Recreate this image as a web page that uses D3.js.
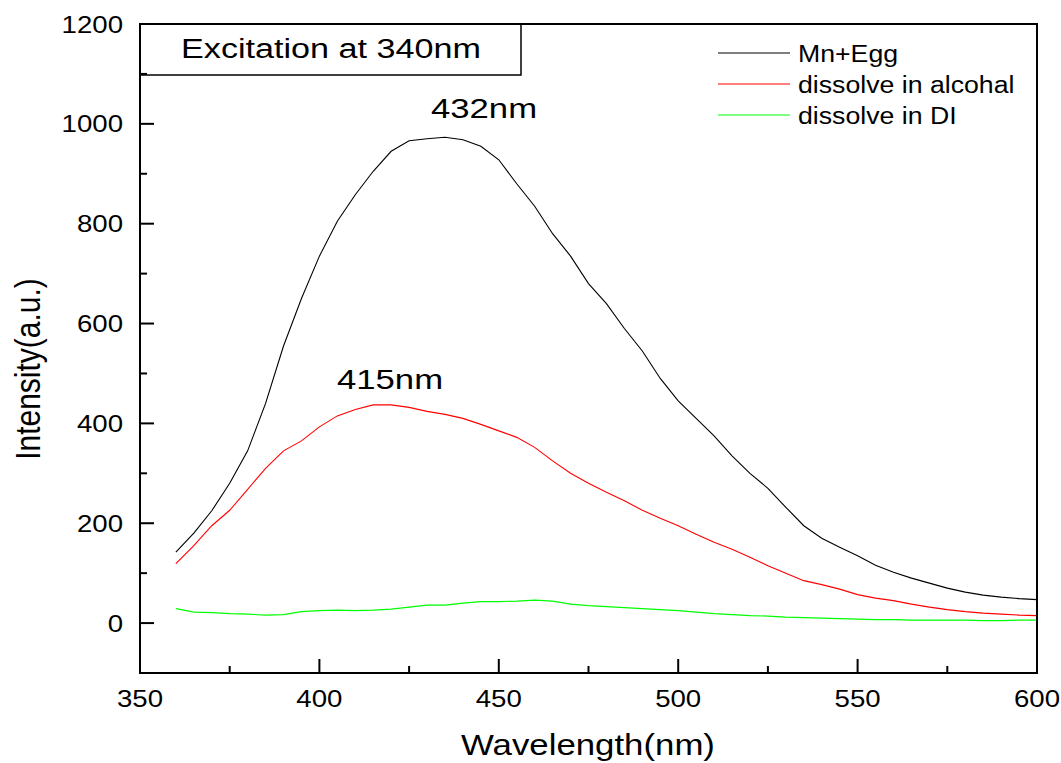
<!DOCTYPE html>
<html>
<head>
<meta charset="utf-8">
<script src="https://cdn.jsdelivr.net/npm/d3@7"></script>
<style>
  body { margin: 0; background: #fff; }
  text { font-family: "Liberation Sans", Arial, sans-serif; fill: #000; }
</style>
</head>
<body>
<div id="viz"></div>
<script>
// wavelength (nm) and the three emission spectra
var wavelength = [360,365,370,375,380,385,390,395,400,405,410,415,420,425,430,435,440,445,450,455,
                  460,465,470,475,480,485,490,495,500,505,510,515,520,525,530,535,540,545,550,555,
                  560,565,570,575,580,585,590,595,600];
var mnEgg   = [142,180,225,280,345,440,555,650,735,805,858,905,945,966,970,973,968,955,928,880,
               835,780,735,680,640,590,545,490,445,410,375,335,300,270,232,195,170,152,135,116,
               102,90,80,70,62,56,52,49,47];
var alcohol = [119,155,195,226,268,310,345,365,393,415,428,437,437,432,424,418,410,398,385,372,
               352,325,300,280,262,245,226,210,195,178,162,148,132,115,100,85,77,68,57,50,
               45,38,32,27,23,20,18,16,15];
var diWater = [29,22,21,19,18,16,17,23,25,26,25,26,28,32,36,36,40,43,43,44,
               46,44,38,35,33,31,29,27,25,22,19,17,15,14,12,11,10,9,8,7,
               7,6,6,6,6,5,5,6,6];

var seriesNames  = ['Mn+Egg', 'dissolve in alcohal', 'dissolve in DI'];
var seriesColors = ['#000000', '#ff0000', '#00ff00'];
var seriesValues = [mnEgg, alcohol, diWater];

var xMajor = [350,400,450,500,550,600];
var xMinor = [375,425,475,525,575];
var yMajor = [0,200,400,600,800,1000,1200];
var yMinor = [100,300,500,700,900,1100];

var width = 1061, height = 763;
var plotL = 140, plotR = 1037, plotT = 24, plotB = 673;

var svg = d3.select('#viz').append('svg')
  .attr('width', width)
  .attr('height', height)

svg.append('rect').attr('width', width).attr('height', height).attr('fill', '#fff')

var x = d3.scaleLinear().domain([350, 600]).range([plotL, plotR])
var y = d3.scaleLinear().domain([-100, 1200]).range([plotB, plotT])

// helper: the reference text is a bit wider than plain Arial
function label(g, tx, ty, str, size, sx, anchor){
  return g.append('text')
    .attr('transform', 'translate(' + tx + ',' + ty + ') scale(' + sx + ',1)')
    .attr('text-anchor', anchor || 'middle')
    .style('font-size', size + 'px')
    .text(str)
}

// curves
var line = d3.line()
  .x(function(d, i){ return x(wavelength[i]) })
  .y(function(d){ return y(d) })

seriesValues.forEach(function(vals, k){
  svg.append('path')
    .datum(vals)
    .attr('d', line)
    .attr('fill', 'none')
    .attr('stroke', seriesColors[k])
    .attr('stroke-width', 1.1)
})

// tick marks, pointing into the plot
var ticks = svg.append('g').attr('stroke', '#000').attr('stroke-width', 2)

ticks.selectAll('.xt')
  .data(xMajor.map(function(d){ return {v: d, len: 14} })
    .concat(xMinor.map(function(d){ return {v: d, len: 7} })))
  .enter().append('line')
  .attr('class', 'xt')
  .attr('x1', function(d){ return x(d.v) }).attr('x2', function(d){ return x(d.v) })
  .attr('y1', plotB).attr('y2', function(d){ return plotB - d.len })

ticks.selectAll('.yt')
  .data(yMajor.filter(function(d){ return d < 1200 }).map(function(d){ return {v: d, len: 14} })
    .concat(yMinor.map(function(d){ return {v: d, len: 7} })))
  .enter().append('line')
  .attr('class', 'yt')
  .attr('y1', function(d){ return y(d.v) }).attr('y2', function(d){ return y(d.v) })
  .attr('x1', plotL).attr('x2', function(d){ return plotL + d.len })

// tick labels
svg.selectAll('.xl').data(xMajor).enter().append('text')
  .attr('class', 'xl')
  .attr('transform', function(d){ return 'translate(' + x(d) + ',707) scale(1.15,1)' })
  .attr('text-anchor', 'middle')
  .style('font-size', '24px')
  .text(function(d){ return d })

svg.selectAll('.yl').data(yMajor).enter().append('text')
  .attr('class', 'yl')
  .attr('transform', function(d){ return 'translate(123,' + (y(d) + 8.5) + ') scale(1.15,1)' })
  .attr('text-anchor', 'end')
  .style('font-size', '24px')
  .text(function(d){ return d })

// frame
svg.append('rect')
  .attr('x', plotL).attr('y', plotT)
  .attr('width', plotR - plotL).attr('height', plotB - plotT)
  .attr('fill', 'none').attr('stroke', '#000').attr('stroke-width', 2)

// title box
svg.append('rect')
  .attr('x', plotL).attr('y', plotT)
  .attr('width', 381).attr('height', 51)
  .attr('fill', 'none').attr('stroke', '#000').attr('stroke-width', 1.5)
label(svg, 331, 58, 'Excitation at 340nm', 28, 1.22)

// peak labels
label(svg, 484, 118, '432nm', 28, 1.24)
label(svg, 390, 389, '415nm', 28, 1.24)

// legend
seriesNames.forEach(function(name, k){
  var ly = 53 + k * 31;
  svg.append('line')
    .attr('x1', 718).attr('x2', 790)
    .attr('y1', ly).attr('y2', ly)
    .attr('stroke', seriesColors[k]).attr('stroke-width', 1.1)
  label(svg, 798, ly + 9, name, 23, 1.16, 'start')
})

// axis titles
label(svg, 588, 755, 'Wavelength(nm)', 30, 1.16)
svg.append('text')
  .attr('transform', 'translate(40,369) rotate(-90) scale(1,1.16)')
  .attr('text-anchor', 'middle')
  .style('font-size', '30px')
  .text('Intensity(a.u.)')
</script>
</body>
</html>
